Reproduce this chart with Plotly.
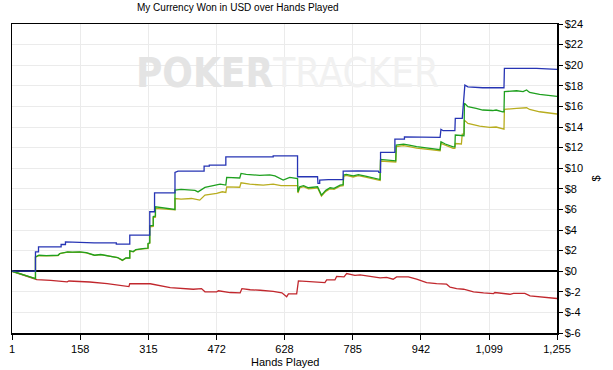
import plotly.graph_objects as go

# ---------------- data ----------------
X_TICKS = [1, 158, 315, 472, 628, 785, 942, 1099, 1255]
X_TICK_TEXT = ["1", "158", "315", "472", "628", "785", "942", "1,099", "1,255"]
Y_TICKS = list(range(-6, 25, 2))
Y_TICK_TEXT = ["$" + str(v) for v in Y_TICKS]

BLUE_HANDS = [1, 55, 55, 62, 62, 114, 114, 124, 124, 190, 241, 241, 272, 272, 318, 318,
              329, 329, 376, 376, 383, 443, 443, 455, 455, 493, 493, 602, 602, 658, 658,
              704, 705, 709, 709, 729, 763, 763, 798, 844, 845, 849, 849, 882, 882, 904,
              904, 986, 988, 993, 1020, 1021, 1037, 1043, 1050, 1084, 1133, 1134, 1208, 1255]
BLUE_VALUES = [0, 0, 1.88, 1.88, 2.36, 2.36, 2.59, 2.59, 2.85, 2.75, 2.75, 2.62, 2.62, 3.50, 3.50, 5.77,
               5.77, 7.60, 7.60, 9.59, 9.72, 9.72, 10.20, 10.20, 10.30, 10.30, 11.10, 11.10, 11.20, 11.20, 9.17,
               9.17, 8.52, 8.52, 8.84, 8.90, 8.90, 9.72, 9.75, 9.72, 9.59, 9.59, 11.53, 11.53, 12.83, 12.83,
               13.05, 12.99, 13.77, 13.64, 13.64, 14.84, 14.84, 18.07, 17.90, 17.81, 17.81, 19.70, 19.70, 19.60]

GREEN_HANDS = [1, 20, 40, 55, 55, 63, 80, 100, 107, 111, 129, 140, 157, 172, 191, 205, 221, 244, 255,
               263, 272, 272, 280, 286, 302, 314, 314, 318, 318, 326, 326, 331, 331, 350, 376, 376,
               390, 422, 429, 445, 472, 480, 493, 495, 525, 528, 540, 571, 594, 606, 625, 640, 658,
               659, 663, 672, 683, 697, 704, 713, 723, 733, 742, 756, 763, 764, 770, 786, 798, 817,
               840, 848, 849, 884, 885, 902, 915, 932, 963, 986, 988, 998, 1016, 1020, 1021, 1035,
               1041, 1042, 1050, 1069, 1084, 1107, 1115, 1130, 1133, 1134, 1162, 1177, 1185, 1192,
               1215, 1255]
GREEN_VALUES = [0, -0.25, -0.50, -0.71, 1.39, 1.55, 1.52, 1.50, 1.55, 1.72, 1.88, 1.85, 1.88, 1.80, 1.55, 1.62, 1.50, 1.33, 1.07,
                1.28, 1.28, 1.97, 1.90, 2.10, 2.20, 2.25, 2.70, 2.75, 4.40, 4.45, 5.30, 5.35, 6.25, 6.15, 6.00, 7.87,
                7.95, 7.85, 7.70, 8.13, 8.36, 8.45, 8.36, 9.10, 9.05, 9.49, 9.40, 9.30, 9.35, 9.25, 8.84, 9.10, 9.00,
                7.70, 8.20, 8.30, 8.10, 8.15, 8.20, 7.39, 7.85, 8.10, 8.05, 8.36, 8.40, 9.33, 9.40, 9.25, 9.38, 9.20,
                9.00, 8.90, 10.85, 10.72, 12.24, 12.34, 12.24, 12.10, 11.92, 11.80, 12.57, 12.35, 12.08, 12.08, 13.22, 13.15,
                13.15, 16.30, 15.97, 15.80, 15.65, 15.60, 15.65, 15.48, 15.48, 17.43, 17.52, 17.43, 17.60, 17.35,
                17.16, 16.98]

OLIVE_HANDS = [1, 20, 40, 55, 55, 63, 80, 100, 107, 111, 129, 140, 157, 172, 191, 205, 221, 244, 255,
               263, 272, 272, 280, 286, 302, 314, 314, 318, 318, 326, 326, 331, 331, 350, 376, 376,
               390, 414, 433, 445, 472, 485, 493, 495, 525, 528, 548, 579, 602, 620, 640, 658,
               659, 663, 672, 683, 697, 704, 713, 723, 733, 742, 756, 763, 764, 770, 786, 798, 817,
               840, 848, 849, 884, 885, 902, 915, 932, 963, 986, 988, 998, 1016, 1020, 1021, 1035,
               1037, 1041, 1042, 1050, 1077, 1100, 1115, 1133, 1134, 1162, 1185, 1192, 1215, 1255]
OLIVE_VALUES = [0, -0.25, -0.50, -0.71, 1.37, 1.52, 1.50, 1.48, 1.52, 1.70, 1.85, 1.83, 1.85, 1.78, 1.53, 1.60, 1.48, 1.31, 1.05,
                1.26, 1.26, 1.95, 1.88, 2.07, 2.17, 2.22, 2.65, 2.70, 4.30, 4.35, 5.20, 5.25, 6.10, 6.05, 5.95, 7.06,
                7.00, 7.06, 6.90, 7.39, 7.55, 7.71, 7.65, 8.19, 8.15, 8.58, 8.45, 8.35, 8.45, 8.30, 8.30, 8.30,
                7.60, 8.10, 8.20, 8.00, 8.05, 8.10, 7.30, 7.75, 8.00, 7.95, 8.25, 8.30, 9.20, 9.30, 9.15, 9.28, 9.10,
                8.90, 8.80, 10.70, 10.60, 12.10, 12.20, 12.10, 11.95, 11.80, 11.70, 12.40, 12.20, 11.92, 11.92, 12.40, 12.35,
                13.30, 13.30, 14.67, 14.35, 14.09, 13.96, 14.00, 13.80, 15.71, 15.80, 15.87, 15.70, 15.48, 15.26]

RED_HANDS = [1, 20, 40, 55, 58, 90, 128, 132, 150, 180, 220, 250, 270, 272, 300, 319, 365, 418, 437,
             445, 472, 476, 503, 526, 530, 549, 572, 602, 622, 633, 637, 656, 660, 687, 721, 725,
             744, 748, 765, 771, 779, 790, 802, 836, 848, 863, 878, 886, 913, 932, 955, 978, 1001,
             1009, 1024, 1040, 1063, 1086, 1109, 1112, 1147, 1155, 1181, 1193, 1216, 1250, 1255]
RED_VALUES = [0, -0.25, -0.50, -0.71, -0.81, -0.90, -1.04, -0.95, -0.98, -1.05, -1.20, -1.35, -1.50, -1.20, -1.20, -1.22, -1.60, -1.75, -1.69,
              -2.00, -2.00, -1.90, -2.07, -2.10, -1.69, -1.80, -1.85, -1.95, -2.10, -2.49, -2.20, -2.20, -0.94, -1.04, -1.10, -0.85,
              -0.85, -0.50, -0.55, -0.23, -0.29, -0.40, -0.35, -0.60, -0.65, -0.60, -0.78, -0.55, -0.55, -0.78, -1.10, -1.20, -1.26,
              -1.55, -1.69, -1.75, -2.00, -2.10, -2.17, -2.07, -2.24, -2.15, -2.15, -2.40, -2.49, -2.65, -2.65]

SERIES = [
    ("red", RED_HANDS, RED_VALUES, "#c1272d"),
    ("olive", OLIVE_HANDS, OLIVE_VALUES, "#b8ad1f"),
    ("green", GREEN_HANDS, GREEN_VALUES, "#1fa01f"),
    ("blue", BLUE_HANDS, BLUE_VALUES, "#2634b4"),
]

# ---------------- figure ----------------
fig = go.Figure()
for name, xs, ys, col in SERIES:
    fig.add_trace(go.Scatter(x=xs, y=ys, mode="lines", name=name,
                             line=dict(color=col, width=1.3), showlegend=False,
                             hoverinfo="skip"))

FONT = "Liberation Sans, Arial, sans-serif"
L, R, T, B = 12, 56, 24, 37
W, H = 613, 370

fig.update_layout(
    width=W, height=H,
    margin=dict(l=L, r=R, t=T, b=B, pad=0, autoexpand=False),
    paper_bgcolor="white", plot_bgcolor="white",
    font=dict(family=FONT, size=11, color="black"),
    showlegend=False,
)
fig.update_xaxes(
    range=[1, 1255], tickmode="array", tickvals=X_TICKS, ticktext=X_TICK_TEXT,
    showgrid=True, gridcolor="#ebebeb", gridwidth=1,
    showline=True, linecolor="black", linewidth=1.5, mirror=True,
    ticks="outside", ticklen=5, tickcolor="black", tickwidth=1,
    zeroline=False, tickfont=dict(size=11), automargin=False,
)
fig.update_yaxes(
    range=[-6, 24], side="right", tickmode="array", tickvals=Y_TICKS, ticktext=Y_TICK_TEXT,
    showgrid=True, gridcolor="#ebebeb", gridwidth=1,
    showline=True, linecolor="black", linewidth=1.5, mirror=True,
    ticks="outside", ticklen=4, tickcolor="black", tickwidth=1,
    zeroline=True, zerolinecolor="black", zerolinewidth=1.5,
    tickfont=dict(size=11), automargin=False,
)

pw = W - L - R
ph = H - T - B
# title
fig.add_annotation(text="My Currency Won in USD over Hands Played",
                   xref="paper", yref="paper", x=(238 - L) / pw, y=(H - B - 7) / ph,
                   xanchor="center", yanchor="middle", showarrow=False,
                   font=dict(size=10, family=FONT))
# x axis title
fig.add_annotation(text="Hands Played", xref="paper", yref="paper",
                   x=(285 - L) / pw, y=-(362 - (H - B)) / ph,
                   xanchor="center", yanchor="middle", showarrow=False,
                   font=dict(size=11, family=FONT))
# y axis title
fig.add_annotation(text="$", xref="paper", yref="paper",
                   x=(595 - L) / pw, y=0.5, textangle=-90,
                   xanchor="center", yanchor="middle", showarrow=False,
                   font=dict(size=11, family=FONT))
# watermark
fig.add_annotation(text="<b><span style='color:#e4e4e4'>POKER</span></b><span style='color:#f1f1f1'>TRACKER</span>",
                   xref="paper", yref="paper",
                   x=(287 - L) / pw, y=(H - B - 73) / ph,
                   xanchor="center", yanchor="middle", showarrow=False,
                   font=dict(size=40, family="DejaVu Sans Condensed, Liberation Sans Narrow, Roboto, sans-serif"))

fig.write_html("out.html",
               config={"displayModeBar": False, "staticPlot": True},
               post_script="document.body.style.margin='0';document.body.style.overflow='hidden';")
